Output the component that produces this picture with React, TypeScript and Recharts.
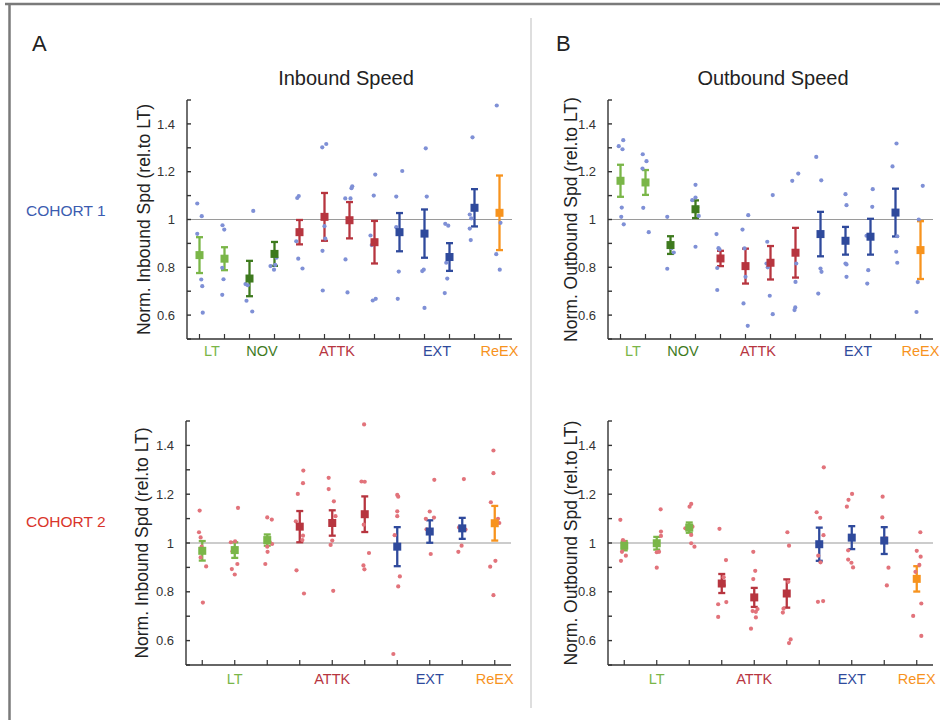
import React from "react";
import { ComposedChart, Scatter, XAxis, YAxis, ReferenceLine, ErrorBar } from "recharts";

const FONT = '"Liberation Sans", Arial, sans-serif';

const groupColors: Record<string, string> = {
  LT: "#7ab648",
  NOV: "#3e7a1e",
  ATTK: "#b7353f",
  EXT: "#2f4a9c",
  ReEX: "#f7931e",
};

const yTicks = [0.5, 0.6, 0.7, 0.8, 0.9, 1, 1.1, 1.2, 1.3, 1.4, 1.5];
const yTickLabels = ["", "0.6", "", "0.8", "", "1", "", "1.2", "", "1.4", ""];

// cohort 1 columns
const cohort1Groups = ["LT", "LT", "NOV", "NOV", "ATTK", "ATTK", "ATTK", "ATTK", "EXT", "EXT", "EXT", "EXT", "ReEX"];
const cohort1LabelAt = [0.5, 2.5, 5.5, 9.5, 12];
const cohort1LabelNames = ["LT", "NOV", "ATTK", "EXT", "ReEX"];

// cohort 2 columns
const cohort2Groups = ["LT", "LT", "LT", "ATTK", "ATTK", "ATTK", "EXT", "EXT", "EXT", "ReEX"];
const cohort2LabelAt = [1, 4, 7, 9];
const cohort2LabelNames = ["LT", "ATTK", "EXT", "ReEX"];

// A, cohort 1 inbound
const inbound1Means = [0.851, 0.836, 0.753, 0.856, 0.947, 1.011, 0.997, 0.905, 0.947, 0.941, 0.843, 1.049, 1.028];
const inbound1Sem = [0.075, 0.048, 0.074, 0.05, 0.051, 0.1, 0.076, 0.089, 0.08, 0.101, 0.058, 0.078, 0.156];
const inbound1Dots = [
  [[-0.09, 1.067], [0.09, 1.014], [-0.09, 0.94], [0.07, 0.749], [0.11, 0.721], [0.13, 0.61]],
  [[-0.08, 0.976], [-0.01, 0.958], [-0.09, 0.798], [-0.04, 0.75], [-0.09, 0.685]],
  [[0.15, 1.036], [-0.16, 0.73], [-0.07, 0.725], [-0.12, 0.66], [0.11, 0.615]],
  [[0.08, 0.84], [-0.16, 0.805], [0.03, 0.81], [-0.02, 0.79]],
  [[-0.09, 1.09], [-0.03, 1.098], [-0.13, 0.909], [-0.05, 0.836], [0.12, 0.795]],
  [[-0.09, 1.302], [0.07, 1.316], [0, 0.972], [0.03, 0.92], [-0.08, 0.869], [-0.07, 0.703]],
  [[0.11, 1.139], [0.08, 1.131], [-0.17, 1.088], [0.04, 1.088], [-0.16, 0.833], [-0.08, 0.695]],
  [[0.03, 1.188], [-0.03, 1.1], [-0.16, 0.933], [-0.11, 0.893], [-0.07, 0.661], [0.05, 0.668]],
  [[0.11, 1.203], [-0.13, 1.096], [-0.13, 0.968], [-0.03, 0.782], [-0.07, 0.668]],
  [[0.05, 1.298], [0.09, 1.096], [-0.09, 0.784], [-0.03, 0.79], [0, 0.63]],
  [[-0.17, 0.982], [-0.05, 0.974], [-0.13, 0.819], [-0.09, 0.753], [-0.19, 0.692]],
  [[-0.08, 1.344], [-0.19, 1.021], [-0.13, 1.005], [-0.19, 0.962], [-0.15, 0.914]],
  [[-0.11, 1.477], [0.04, 0.986], [-0.13, 0.855], [0.01, 0.79]],
];

// B, cohort 1 outbound
const outbound1Means = [1.162, 1.155, 0.893, 1.043, 0.837, 0.805, 0.819, 0.861, 0.939, 0.911, 0.928, 1.029, 0.872];
const outbound1Sem = [0.067, 0.052, 0.037, 0.037, 0.032, 0.073, 0.07, 0.104, 0.093, 0.058, 0.075, 0.1, 0.121];
const outbound1Dots = [
  [[-0.07, 1.307], [0.11, 1.332], [0.08, 1.294], [0.05, 1.05], [0.03, 1.011], [0.13, 0.98]],
  [[-0.11, 1.273], [0.04, 1.244], [-0.12, 1.213], [-0.09, 1.049], [0.13, 0.947]],
  [[-0.13, 1.011], [0.13, 0.862], [-0.13, 0.794], [0.04, 0.88]],
  [[0, 1.145], [0, 1.092], [-0.13, 1.081], [0.13, 1.015], [0, 0.886], [0.07, 1.05]],
  [[-0.16, 0.939], [-0.08, 0.88], [-0.04, 0.875], [-0.13, 0.797], [-0.13, 0.705]],
  [[0.11, 1.018], [-0.12, 0.958], [-0.04, 0.879], [0, 0.76], [-0.08, 0.649], [0.09, 0.555]],
  [[0.09, 1.102], [-0.13, 0.907], [-0.16, 0.816], [-0.11, 0.8], [-0.03, 0.681], [0.09, 0.604]],
  [[-0.13, 1.162], [0.11, 1.192], [0.03, 0.816], [0, 0.739], [-0.01, 0.632], [-0.04, 0.621]],
  [[-0.17, 1.262], [0.03, 1.164], [0, 0.795], [0.04, 0.781], [-0.09, 0.69]],
  [[0, 1.106], [0.04, 1.06], [0, 0.816], [0.04, 0.812], [0.04, 0.76]],
  [[0.09, 1.127], [0.07, 1.053], [-0.16, 0.932], [-0.09, 0.788], [-0.13, 0.732]],
  [[0.04, 1.318], [-0.12, 1.222], [0.07, 0.93], [0.03, 0.865], [0.07, 0.819]],
  [[0.09, 1.141], [-0.07, 1.0], [-0.11, 0.738], [-0.16, 0.613]],
];

// A, cohort 2 inbound
const inbound2Means = [0.968, 0.971, 1.012, 1.067, 1.082, 1.118, 0.985, 1.047, 1.06, 1.081];
const inbound2Sem = [0.04, 0.032, 0.023, 0.064, 0.052, 0.073, 0.08, 0.046, 0.043, 0.071];
const inbound2Dots = [
  [[-0.08, 1.133], [-0.1, 1.044], [-0.05, 1.023], [-0.02, 0.985], [-0.05, 0.941], [0.12, 0.904], [0.02, 0.756]],
  [[0.1, 1.144], [-0.12, 1.003], [0.01, 1.007], [-0.07, 0.966], [0.08, 0.914], [-0.09, 0.893], [0, 0.871]],
  [[0, 1.105], [0.14, 1.096], [0.15, 0.996], [0.01, 0.964], [-0.06, 0.914], [0, 0.985], [0.08, 1.003]],
  [[0.11, 1.297], [0.1, 1.245], [-0.06, 1.201], [-0.12, 1.089], [0.1, 1.03], [0.08, 1.012], [-0.1, 0.888], [0.13, 0.793]],
  [[-0.11, 1.267], [-0.11, 1.221], [0.05, 1.171], [0.1, 1.11], [0, 1.01], [-0.05, 0.992], [0.03, 0.804]],
  [[-0.02, 1.486], [-0.1, 1.252], [0, 1.251], [-0.03, 1.075], [0.13, 0.959], [-0.04, 0.908], [-0.01, 0.892]],
  [[0, 1.197], [0.03, 1.19], [0, 1.13], [0, 1.11], [-0.08, 1.032], [0.08, 0.863], [0.03, 0.822], [-0.12, 0.545]],
  [[0.14, 1.259], [0, 1.129], [-0.12, 1.099], [0.13, 1.104], [-0.1, 1.056], [0.03, 0.955]],
  [[0.05, 1.262], [-0.1, 1.064], [0.1, 1.055], [-0.02, 0.989], [-0.12, 0.964]],
  [[-0.04, 1.379], [-0.04, 1.286], [-0.12, 1.167], [0.1, 1.099], [0.14, 1.082], [0.02, 0.927], [-0.14, 0.903], [-0.04, 0.786]],
];

// B, cohort 2 outbound
const outbound2Means = [0.989, 0.999, 1.063, 0.834, 0.777, 0.793, 0.995, 1.022, 1.01, 0.853];
const outbound2Sem = [0.019, 0.026, 0.021, 0.039, 0.039, 0.058, 0.068, 0.047, 0.055, 0.052];
const outbound2Dots = [
  [[-0.12, 1.095], [-0.04, 1.012], [0.01, 1.005], [-0.07, 0.964], [0.05, 0.948], [-0.1, 0.927], [-0.02, 0.978]],
  [[0.12, 1.138], [0.13, 1.047], [0.13, 1.029], [-0.05, 1.005], [0.07, 0.964], [0, 0.962], [0, 0.899]],
  [[0.06, 1.16], [0.01, 1.149], [-0.12, 1.06], [0.1, 1.067], [0.06, 1.033], [0.06, 0.999], [0.16, 0.985]],
  [[-0.07, 1.058], [0.13, 0.93], [0.06, 0.86], [0.06, 0.827], [-0.11, 0.749], [0.14, 0.758], [-0.11, 0.697]],
  [[-0.03, 0.964], [0.03, 0.886], [-0.03, 0.852], [0.05, 0.718], [-0.05, 0.721], [0.1, 0.729], [0.05, 0.695], [-0.1, 0.649]],
  [[0.02, 1.044], [0.07, 0.989], [0.05, 0.841], [-0.1, 0.731], [-0.12, 0.715], [0.12, 0.605], [0.07, 0.59]],
  [[0.14, 1.31], [-0.08, 1.126], [0.03, 1.103], [0.13, 1.032], [-0.03, 0.948], [0.04, 0.921], [-0.04, 0.759], [0.12, 0.762]],
  [[0.01, 1.201], [-0.1, 1.177], [-0.15, 1.149], [-0.11, 0.97], [-0.11, 0.932], [-0.01, 0.919], [0.04, 0.9]],
  [[-0.05, 1.19], [-0.06, 1.105], [0.05, 1.019], [0.13, 0.899], [0.08, 0.826]],
  [[0.11, 1.044], [0, 0.968], [0.12, 0.944], [0.08, 0.91], [-0.04, 0.882], [0.14, 0.752], [-0.11, 0.701], [0.14, 0.619]],
];

type PanelProps = {
  left: number;
  top: number;
  yWidth: number;
  rightPad: number;
  plotH: number;
  labelGap: number;
  yLabel: string;
  dotColor: string;
  groups: string[];
  means: number[];
  sems: number[];
  dots: number[][][];
  labelAt: number[];
  labelNames: string[];
};

function Panel(p: PanelProps) {
  const n = p.groups.length;
  const cols = p.groups.map((_, i) => i);
  const xTicks = Array.from(new Set([...cols, ...p.labelAt])).sort((a, b) => a - b);
  const dotData = p.dots.flatMap((col, i) => col.map(([dx, y]) => ({ x: i + dx, y })));
  const groupOrder = Array.from(new Set(p.groups));
  const meanSeries = groupOrder.map((g) => ({
    g,
    data: cols.filter((i) => p.groups[i] === g).map((i) => ({ x: i, y: p.means[i], err: p.sems[i] })),
  }));
  const width = p.yWidth + 325 + p.rightPad;
  const height = 10 + p.plotH + 30;

  // tick marks at every column (pointing up), group names under the middle of each group
  const renderXTick = (t: any) => {
    const v = t.payload.value;
    const k = p.labelAt.indexOf(v);
    const name = k >= 0 ? p.labelNames[k] : null;
    return (
      <g>
        {Number.isInteger(v) && <line x1={t.x} x2={t.x} y1={t.y} y2={t.y - 5} stroke="#333" strokeWidth={1.2} />}
        {name && (
          <text x={t.x} y={t.y + p.labelGap} dy="0.71em" textAnchor="middle" fill={groupColors[name]} fontSize={14.5} fontFamily={FONT}>
            {name}
          </text>
        )}
      </g>
    );
  };

  return (
    <div style={{ position: "absolute", left: p.left, top: p.top }}>
      <ComposedChart width={width} height={height} margin={{ top: 10, right: p.rightPad, bottom: 0, left: 0 }}>
        <XAxis
          type="number"
          dataKey="x"
          domain={[-0.5, n - 0.5]}
          ticks={xTicks}
          interval={0}
          allowDataOverflow
          height={30}
          tickSize={0}
          tickMargin={0}
          tickLine={false}
          tick={renderXTick}
          stroke="#333"
          strokeWidth={1.4}
        />
        <YAxis
          type="number"
          dataKey="y"
          domain={[0.5, 1.5]}
          ticks={yTicks}
          interval={0}
          allowDataOverflow
          width={p.yWidth}
          tickSize={-4}
          tickMargin={16}
          tickFormatter={(_v: number, i: number) => yTickLabels[i]}
          tick={{ fontSize: 13, fill: "#333", fontFamily: FONT }}
          stroke="#333"
          strokeWidth={1.4}
          label={{ value: p.yLabel, angle: -90, position: "center", fontSize: 17.5, fill: "#222", fontFamily: FONT }}
        />
        <ReferenceLine y={1} stroke="#9a9a9a" strokeWidth={1.2} />
        <Scatter
          data={dotData}
          isAnimationActive={false}
          shape={(s: any) => <circle cx={s.cx} cy={s.cy} r={2.1} fill={p.dotColor} />}
        />
        {meanSeries.map((s) => (
          <Scatter
            key={s.g}
            data={s.data}
            isAnimationActive={false}
            shape={(q: any) => <rect x={q.cx - 4} y={q.cy - 4} width={8} height={8} fill={groupColors[s.g]} />}
          >
            <ErrorBar dataKey="err" direction="y" width={3.5} stroke={groupColors[s.g]} strokeWidth={2.3} />
          </Scatter>
        ))}
      </ComposedChart>
    </div>
  );
}

export default function App() {
  return (
    <div style={{ position: "relative", width: 940, height: 720, background: "#fff", overflow: "hidden" }}>
      <style>{`body{margin:0}`}</style>
      <svg width={940} height={720} style={{ position: "absolute", left: 0, top: 0 }} fontFamily={FONT}>
        <line x1={5} y1={4} x2={940} y2={4} stroke="#7a7a7a" strokeWidth={2.5} />
        <line x1={9.5} y1={3} x2={9.5} y2={720} stroke="#7a7a7a" strokeWidth={2.5} />
        <line x1={531} y1={18} x2={531} y2={708} stroke="#bdbdbd" strokeWidth={1} />
        <text x={32} y={51} fontSize={22} fill="#222">A</text>
        <text x={556} y={51} fontSize={22} fill="#222">B</text>
        <text x={346} y={85} fontSize={20} fill="#222" textAnchor="middle">Inbound Speed</text>
        <text x={773} y={85} fontSize={20} fill="#222" textAnchor="middle">Outbound Speed</text>
        <text x={26} y={216} fontSize={15.5} fill="#3b5cb0">COHORT 1</text>
        <text x={26} y={527} fontSize={15.5} fill="#d9342b">COHORT 2</text>
      </svg>
      <Panel
        left={101} top={90} yWidth={86} rightPad={10} plotH={239} labelGap={7}
        yLabel="Norm. Inbound Spd (rel.to LT)" dotColor="#7f90d6"
        groups={cohort1Groups} means={inbound1Means} sems={inbound1Sem} dots={inbound1Dots}
        labelAt={cohort1LabelAt} labelNames={cohort1LabelNames}
      />
      <Panel
        left={534} top={90} yWidth={74} rightPad={6} plotH={239} labelGap={7}
        yLabel="Norm. Outbound Spd (rel.to LT)" dotColor="#7f90d6"
        groups={cohort1Groups} means={outbound1Means} sems={outbound1Sem} dots={outbound1Dots}
        labelAt={cohort1LabelAt} labelNames={cohort1LabelNames}
      />
      <Panel
        left={97} top={411} yWidth={89} rightPad={10} plotH={244} labelGap={9}
        yLabel="Norm. Inbound Spd (rel.to LT)" dotColor="#e2737b"
        groups={cohort2Groups} means={inbound2Means} sems={inbound2Sem} dots={inbound2Dots}
        labelAt={cohort2LabelAt} labelNames={cohort2LabelNames}
      />
      <Panel
        left={534} top={411} yWidth={74} rightPad={6} plotH={244} labelGap={9}
        yLabel="Norm. Outbound Spd (rel.to LT)" dotColor="#e2737b"
        groups={cohort2Groups} means={outbound2Means} sems={outbound2Sem} dots={outbound2Dots}
        labelAt={cohort2LabelAt} labelNames={cohort2LabelNames}
      />
    </div>
  );
}
